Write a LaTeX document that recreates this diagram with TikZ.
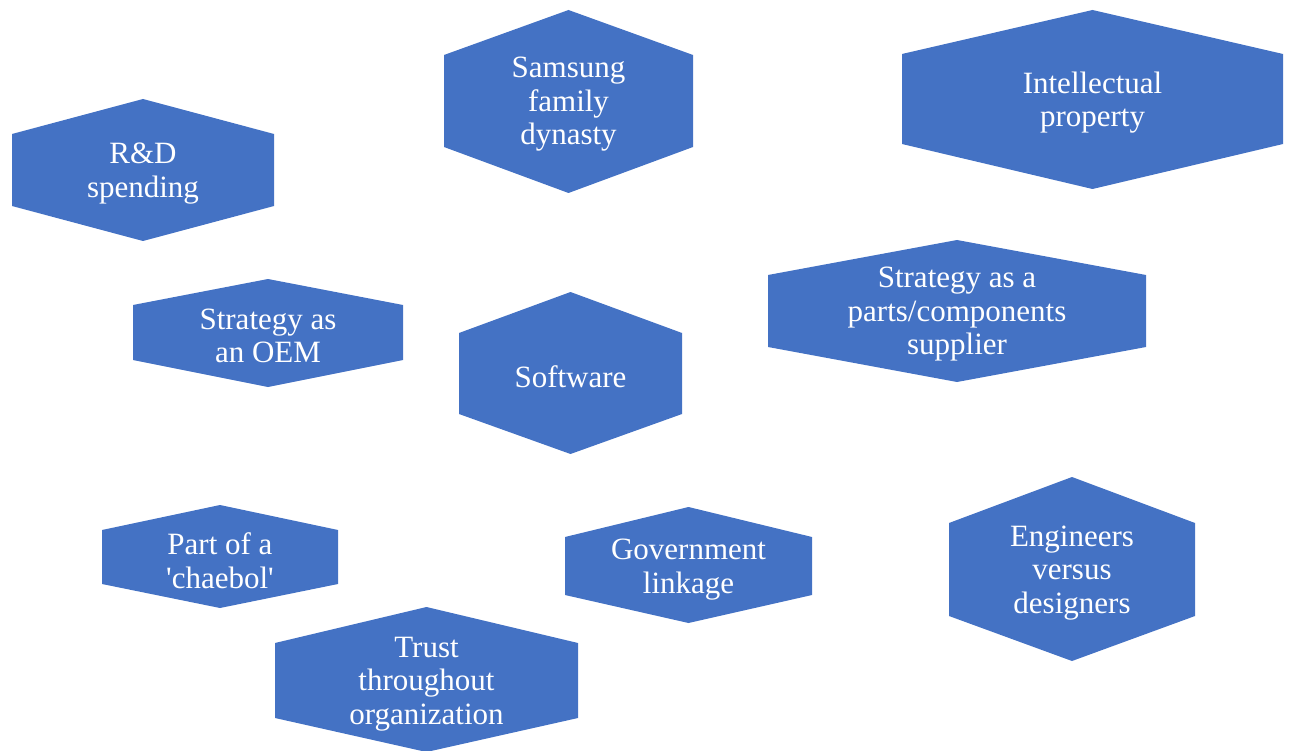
\documentclass[tikz,border=0pt]{standalone}
\usepackage{fontspec}
\setmainfont{Liberation Serif}
% label font without the TeX quote mapping, so ' stays a straight quote
\newfontfamily\hexfont{Liberation Serif}
\definecolor{hexblue}{HTML}{4472C4}
\tikzset{
  hexfill/.style={fill=hexblue},
  hexlabel/.style={text=white, align=center, inner sep=0pt, yshift=-3.5pt,
    font=\hexfont\fontsize{31}{33.5}\selectfont},
}
% #1 name, #2 left x, #3 right x, #4 top apex y, #5 upper side y,
% #6 lower side y, #7 bottom apex y, #8 label
\newcommand\hexbox[8]{%
  \fill[hexfill] (#2,#5) -- ({(#2+#3)/2},#4) -- (#3,#5) -- (#3,#6)
    -- ({(#2+#3)/2},#7) -- (#2,#6) -- cycle;
  \node[hexlabel] (#1) at ({(#2+#3)/2},{(#5+#6)/2}) {#8};
}
\begin{document}
\begin{tikzpicture}[x=1pt,y=-1pt]
  \useasboundingbox (0,0) rectangle (1292,751);
  \hexbox{rd}{12}{274}{99}{134}{206}{241}{R\&D\\spending}
  \hexbox{family}{444}{693}{10}{55}{147}{193}{Samsung\\family\\dynasty}
  \hexbox{ip}{902}{1283}{10}{54}{144}{189}{Intellectual\\property}
  \hexbox{oem}{133}{403}{279}{305}{360}{387}{Strategy as\\an OEM}
  \hexbox{software}{459}{682}{292}{333}{414}{454}{Software}
  \hexbox{supplier}{768}{1146}{240}{275}{347}{382}{Strategy as a\\parts/components\\supplier}
  \hexbox{chaebol}{102}{338}{505}{530}{584}{608}{Part of a\\'chaebol'}
  \hexbox{trust}{275}{578}{607}{643}{718}{752}{Trust\\throughout\\organization}
  \hexbox{gov}{565}{812}{507}{537}{595}{623}{Government\\linkage}
  \hexbox{eng}{949}{1195}{477}{523}{616}{661}{Engineers\\versus\\designers}
\end{tikzpicture}
\end{document}
